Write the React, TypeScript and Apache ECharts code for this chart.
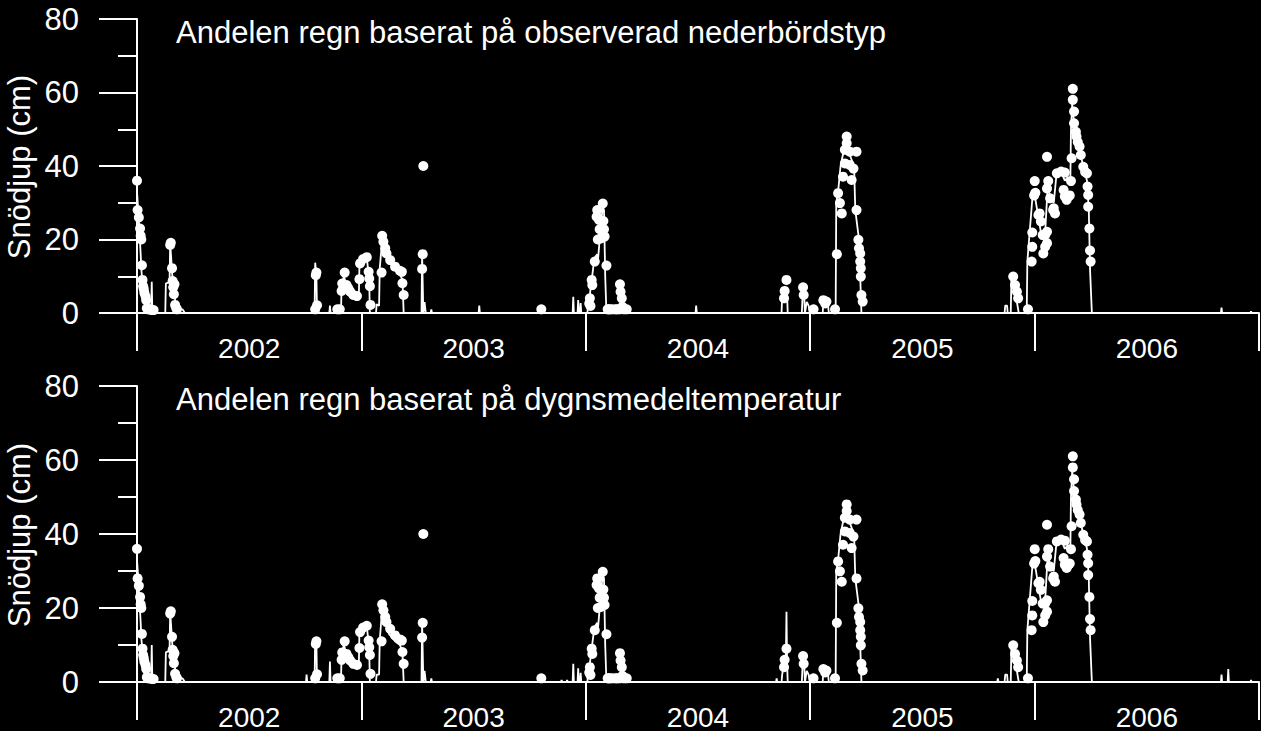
import React, { useEffect, useRef } from "react";
import * as echarts from "echarts";

// Year categories (label axis) and x range in days since 2002-01-01
const years = ["2002", "2003", "2004", "2005", "2006"];
const dayMax = 1826;
const yMin = 0;
const yMax = 80;

const titleTop = "Andelen regn baserat på observerad nederbördstyp";
const titleBottom = "Andelen regn baserat på dygnsmedeltemperatur";
const yName = "Snödjup (cm)";

// Observed snow depth [day since 2002-01-01, cm]
const observed: [number, number][] = [
  [0, 36], [1, 28], [3, 26], [5, 23], [6, 21], [7, 20], [8, 13], [9, 9], [10, 7.3], [11, 6.5], [12, 5.5], [14, 4.5], [15, 3.5], [16, 1.3], [18, 1], [20, 1], [24, 0.8], [27, 0.8],
  [54, 18.5], [55, 19.1], [57, 12.2], [58, 8.7], [59, 7], [60, 5.1], [61, 7.8], [62, 2.2], [64, 1.3], [65, 1],
  [290, 1], [291, 10.3], [292, 11], [293, 2.1], [326, 1], [330, 1], [333, 6], [334, 8], [338, 11], [341, 7.6], [344, 6.7], [347, 5.8], [352, 4.9], [358, 4.6],
  [362, 9.2], [363, 13.5], [368, 14.7], [374, 15.2], [377, 11.2], [378, 9.4], [379, 7.3], [380, 2.2],
  [398, 11], [399, 21], [401, 19.4], [404, 17.6], [406, 16.2], [412, 14.4], [420, 12.6], [428, 11.5], [431, 11.2], [432, 8.1], [434, 4.9],
  [464, 12], [465, 16], [466, 40],
  [658, 1], [736, 2.6], [737, 4], [738, 1.9], [740, 9], [741, 7.6], [745, 14], [748, 26.2], [749, 28], [750, 20], [752, 25.3], [753, 22.8], [755, 20.3],
  [758, 29.8], [759, 25], [760, 22.8], [761, 20.8], [764, 12.9], [766, 1], [768, 1], [770, 1], [774, 1], [779, 1], [781, 1], [785, 1], [786, 7.8], [787, 5.8], [789, 4], [790, 1.7], [792, 1], [797, 1],
  [1053, 4], [1054, 6], [1057, 9], [1084, 7], [1085, 4.9], [1101, 1], [1117, 3.5], [1120, 2.6], [1122, 3.1], [1136, 1],
  [1139, 16], [1141, 32.6], [1144, 29.9], [1147, 27.1], [1149, 37.1], [1152, 40.7], [1152, 44.4], [1155, 48], [1155, 46.2], [1160, 40.3], [1160, 43.9],
  [1163, 36.2], [1166, 39.3], [1171, 43.9], [1171, 28], [1174, 19.9], [1175, 17.6], [1177, 16.2], [1177, 14], [1178, 12.2], [1178, 9.9], [1179, 4.9], [1181, 3.1],
  [1426, 9.9], [1429, 7.6], [1432, 5.8], [1434, 4], [1450, 1],
  [1456, 14], [1457, 18], [1457, 21.9], [1460, 32], [1461, 35.9], [1462, 32.7], [1467, 26.7], [1469, 27.1], [1471, 24.9], [1474, 21.2], [1475, 16.2],
  [1478, 18], [1478, 21.2], [1481, 19], [1481, 22.1], [1481, 42.5], [1481, 33.9], [1483, 35.9], [1486, 31.2], [1491, 28], [1492, 28.5], [1494, 27.1],
  [1497, 38], [1504, 38.5], [1508, 33.5], [1510, 38.2], [1510, 31.7], [1513, 30.8], [1516, 31.7], [1518, 32], [1520, 35.9], [1521, 42.1],
  [1523, 61], [1523, 58], [1525, 54.8], [1525, 51.6], [1528, 49.3], [1529, 48], [1531, 46.5], [1534, 45.3], [1536, 43], [1540, 39.8], [1543, 38.4],
  [1546, 38], [1547, 34.4], [1548, 32.1], [1548, 28.9], [1550, 23], [1551, 17], [1552, 14],
];

// Simulated snow depth, rain share from observed precipitation type
const simTop: [number, number][] = [
  [0, 33], [2, 28], [4, 22], [6, 16], [7, 12], [9, 8], [11, 5], [13, 4], [15, 2], [17, 1], [20, 0], [23, 0], [24, 8.5], [25, 0],
  [46, 0], [47, 8], [53, 8.5], [54, 19], [56, 14], [57, 11], [59, 8], [61, 5], [63, 2], [65, 0], [70, 1], [74, 1], [78, 0],
  [289, 0], [290, 13.7], [292, 10], [293, 0],
  [313, 0], [314, 2], [315, 0],
  [325, 0], [326, 1], [330, 1.5], [332, 0], [333, 8], [337, 10], [341, 7], [347, 6], [353, 5], [358, 4], [361, 4], [362, 13], [368, 15], [374, 15], [376, 12], [378, 8], [379, 0],
  [389, 0], [390, 2.4], [394, 2], [395, 12], [399, 20], [404, 17], [410, 14], [420, 12], [428, 10.5], [432, 9], [434, 0],
  [463, 0], [464, 16], [466, 0], [468, 3], [470, 0],
  [478, 0], [479, 1], [480, 0],
  [556, 0], [557, 2], [558, 0],
  [709, 0], [710, 4.4], [711, 0], [717, 0], [718, 3.5], [719, 0], [721, 0], [722, 2.7], [723, 0],
  [733, 0], [734, 2], [737, 5], [740, 9], [743, 13], [745, 15], [749, 16], [750, 14], [752, 18], [755, 24], [758, 29], [760, 28], [762, 10], [764, 0], [770, 1], [780, 1], [790, 1], [800, 0],
  [909, 0], [910, 2], [911, 0],
  [1049, 0], [1050, 5], [1055, 6], [1058, 5], [1059, 0],
  [1082, 0], [1083, 4], [1086, 4], [1087, 0], [1090, 3], [1093, 2], [1095, 0],
  [1116, 0], [1117, 3], [1124, 3], [1126, 0],
  [1137, 0], [1138, 30], [1141, 33], [1145, 40], [1150, 44], [1155, 44], [1160, 43], [1167, 40], [1169, 28], [1172, 24], [1175, 20], [1177, 10], [1179, 0],
  [1412, 0], [1413, 2], [1416, 2], [1417, 0], [1422, 0], [1423, 9], [1426, 8], [1430, 5], [1433, 2], [1435, 0],
  [1448, 0], [1449, 14], [1458, 33], [1461, 32], [1465, 28], [1472, 21], [1478, 22], [1482, 34], [1486, 32], [1492, 30], [1496, 37], [1500, 38], [1505, 38],
  [1510, 36], [1515, 37], [1519, 36], [1520, 50], [1522, 57], [1526, 50], [1531, 46], [1537, 42], [1542, 39], [1546, 36], [1549, 28], [1551, 12], [1554, 0],
  [1764, 0], [1765, 1.5], [1766, 0], [1812, 0], [1813, 0.5], [1814, 0],
];

// Simulated snow depth, rain share from daily mean temperature
const simBottom: [number, number][] = [
  [0, 33], [2, 28], [4, 22], [6, 16], [7, 12], [9, 8], [11, 5], [13, 4], [15, 2], [17, 1], [20, 0], [23, 0], [24, 10], [25, 0],
  [46, 0], [47, 8], [53, 8.5], [54, 19], [56, 14], [57, 11], [59, 8], [61, 5], [63, 2], [65, 0], [70, 1], [74, 1], [78, 0],
  [275, 0], [276, 2], [277, 0],
  [289, 0], [290, 12], [292, 10], [293, 0],
  [313, 0], [314, 5.5], [315, 0],
  [325, 0], [326, 1], [330, 1.5], [332, 0], [333, 8], [337, 10], [341, 7], [347, 6], [353, 5], [358, 4], [361, 4], [362, 14], [368, 15], [374, 15], [376, 12], [378, 8], [379, 0],
  [389, 0], [390, 2], [394, 2], [395, 11], [399, 20], [404, 16], [410, 13], [420, 11], [428, 10], [432, 8], [434, 0],
  [463, 0], [464, 16], [466, 0], [468, 3], [470, 0],
  [478, 0], [479, 1], [480, 0],
  [690, 0], [691, 0.5], [692, 0], [699, 0], [700, 0.5], [701, 0],
  [709, 0], [710, 4.9], [711, 0], [717, 0], [718, 3.7], [719, 0], [721, 0], [722, 2.5], [723, 0],
  [733, 0], [734, 2], [737, 5], [740, 9], [743, 13], [745, 15], [749, 16], [750, 14], [752, 18], [755, 24], [758, 29], [760, 28], [762, 10], [764, 0], [770, 1], [780, 1], [790, 1], [800, 0],
  [1040, 0], [1041, 1], [1042, 0],
  [1049, 0], [1050, 2], [1053, 5], [1056, 6], [1057, 19], [1058, 5], [1059, 0],
  [1082, 0], [1083, 4], [1086, 4], [1087, 0], [1090, 3], [1093, 2], [1095, 0],
  [1116, 0], [1117, 3], [1124, 3], [1126, 0],
  [1137, 0], [1138, 30], [1141, 33], [1145, 40], [1150, 44], [1155, 44], [1160, 43], [1167, 40], [1169, 28], [1172, 24], [1175, 20], [1177, 10], [1179, 0],
  [1400, 0], [1401, 1], [1402, 0],
  [1412, 0], [1413, 2], [1416, 2], [1417, 0], [1422, 0], [1423, 9], [1426, 8], [1430, 5], [1433, 2], [1435, 0],
  [1448, 0], [1449, 14], [1458, 33], [1461, 32], [1465, 28], [1472, 21], [1478, 22], [1482, 34], [1486, 32], [1492, 30], [1496, 37], [1500, 38], [1505, 38],
  [1510, 36], [1515, 37], [1519, 36], [1520, 50], [1522, 57], [1526, 50], [1531, 46], [1537, 42], [1542, 39], [1546, 36], [1549, 28], [1551, 12], [1554, 0],
  [1764, 0], [1765, 2], [1766, 0], [1775, 0], [1776, 3.5], [1777, 0], [1812, 0], [1813, 0.5], [1814, 0],
];

const FONT = "'Liberation Sans', Arial, Helvetica, sans-serif";
const WHITE = "#ffffff";

export default function App() {
  const ref = useRef<HTMLDivElement>(null);

  useEffect(() => {
    if (!ref.current) return;
    const chart = echarts.init(ref.current, undefined, { renderer: "svg" });

    const grids = [
      { left: 137, top: 19, width: 1122, height: 294 },
      { left: 137, top: 386, width: 1122, height: 296 },
    ];
    const sims = [simTop, simBottom];
    const titles = [titleTop, titleBottom];
    const axisLine = { show: true, lineStyle: { color: WHITE, width: 2 } };
    const xAxis: any[] = [];
    const yAxis: any[] = [];
    const series: any[] = [];
    const graphic: any[] = [];

    grids.forEach((g, i) => {
      xAxis.push({
        gridIndex: i, type: "value", min: 0, max: dayMax, show: false, position: "top",
      });
      xAxis.push({
        gridIndex: i, type: "category", data: years, boundaryGap: true, position: "bottom",
        axisLine,
        axisTick: { show: true, length: 38, interval: 0, lineStyle: { color: WHITE, width: 2 } },
        axisLabel: { color: WHITE, fontSize: 28, fontFamily: FONT, margin: 21, interval: 0 },
        splitLine: { show: false },
      });
      yAxis.push({
        gridIndex: i, type: "value", min: yMin, max: yMax, interval: 20,
        axisLine,
        axisTick: { show: true, length: 38, lineStyle: { color: WHITE, width: 2 } },
        minorTick: { show: true, splitNumber: 2, length: 19, lineStyle: { color: WHITE, width: 2 } },
        splitLine: { show: false },
        minorSplitLine: { show: false },
        axisLabel: { color: WHITE, fontSize: 31, fontFamily: FONT, margin: 58 },
      });
      series.push({
        type: "line", xAxisIndex: i * 2, yAxisIndex: i, data: sims[i],
        showSymbol: false, symbol: "none", lineStyle: { color: WHITE, width: 1.8 }, z: 2,
      });
      series.push({
        type: "scatter", xAxisIndex: i * 2, yAxisIndex: i, data: observed,
        symbol: "circle", symbolSize: 10, itemStyle: { color: WHITE, opacity: 1 }, z: 3,
      });
      graphic.push({
        type: "text", x: 176, y: g.top + 13,
        style: { text: titles[i], fill: WHITE, fontSize: 31, fontFamily: FONT, verticalAlign: "middle", align: "left" },
      });
      graphic.push({
        type: "text", x: 19, y: g.top + g.height / 2 + 1, rotation: Math.PI / 2,
        style: { text: yName, fill: WHITE, fontSize: 31, fontFamily: FONT, verticalAlign: "middle", align: "center" },
      });
    });

    chart.setOption({
      animation: false,
      backgroundColor: "#000000",
      grid: grids,
      xAxis,
      yAxis,
      series,
      graphic,
    });

    return () => chart.dispose();
  }, []);

  return (
    <div
      ref={ref}
      style={{ position: "fixed", left: 0, top: 0, width: 1261, height: 731, background: "#000" }}
    />
  );
}
